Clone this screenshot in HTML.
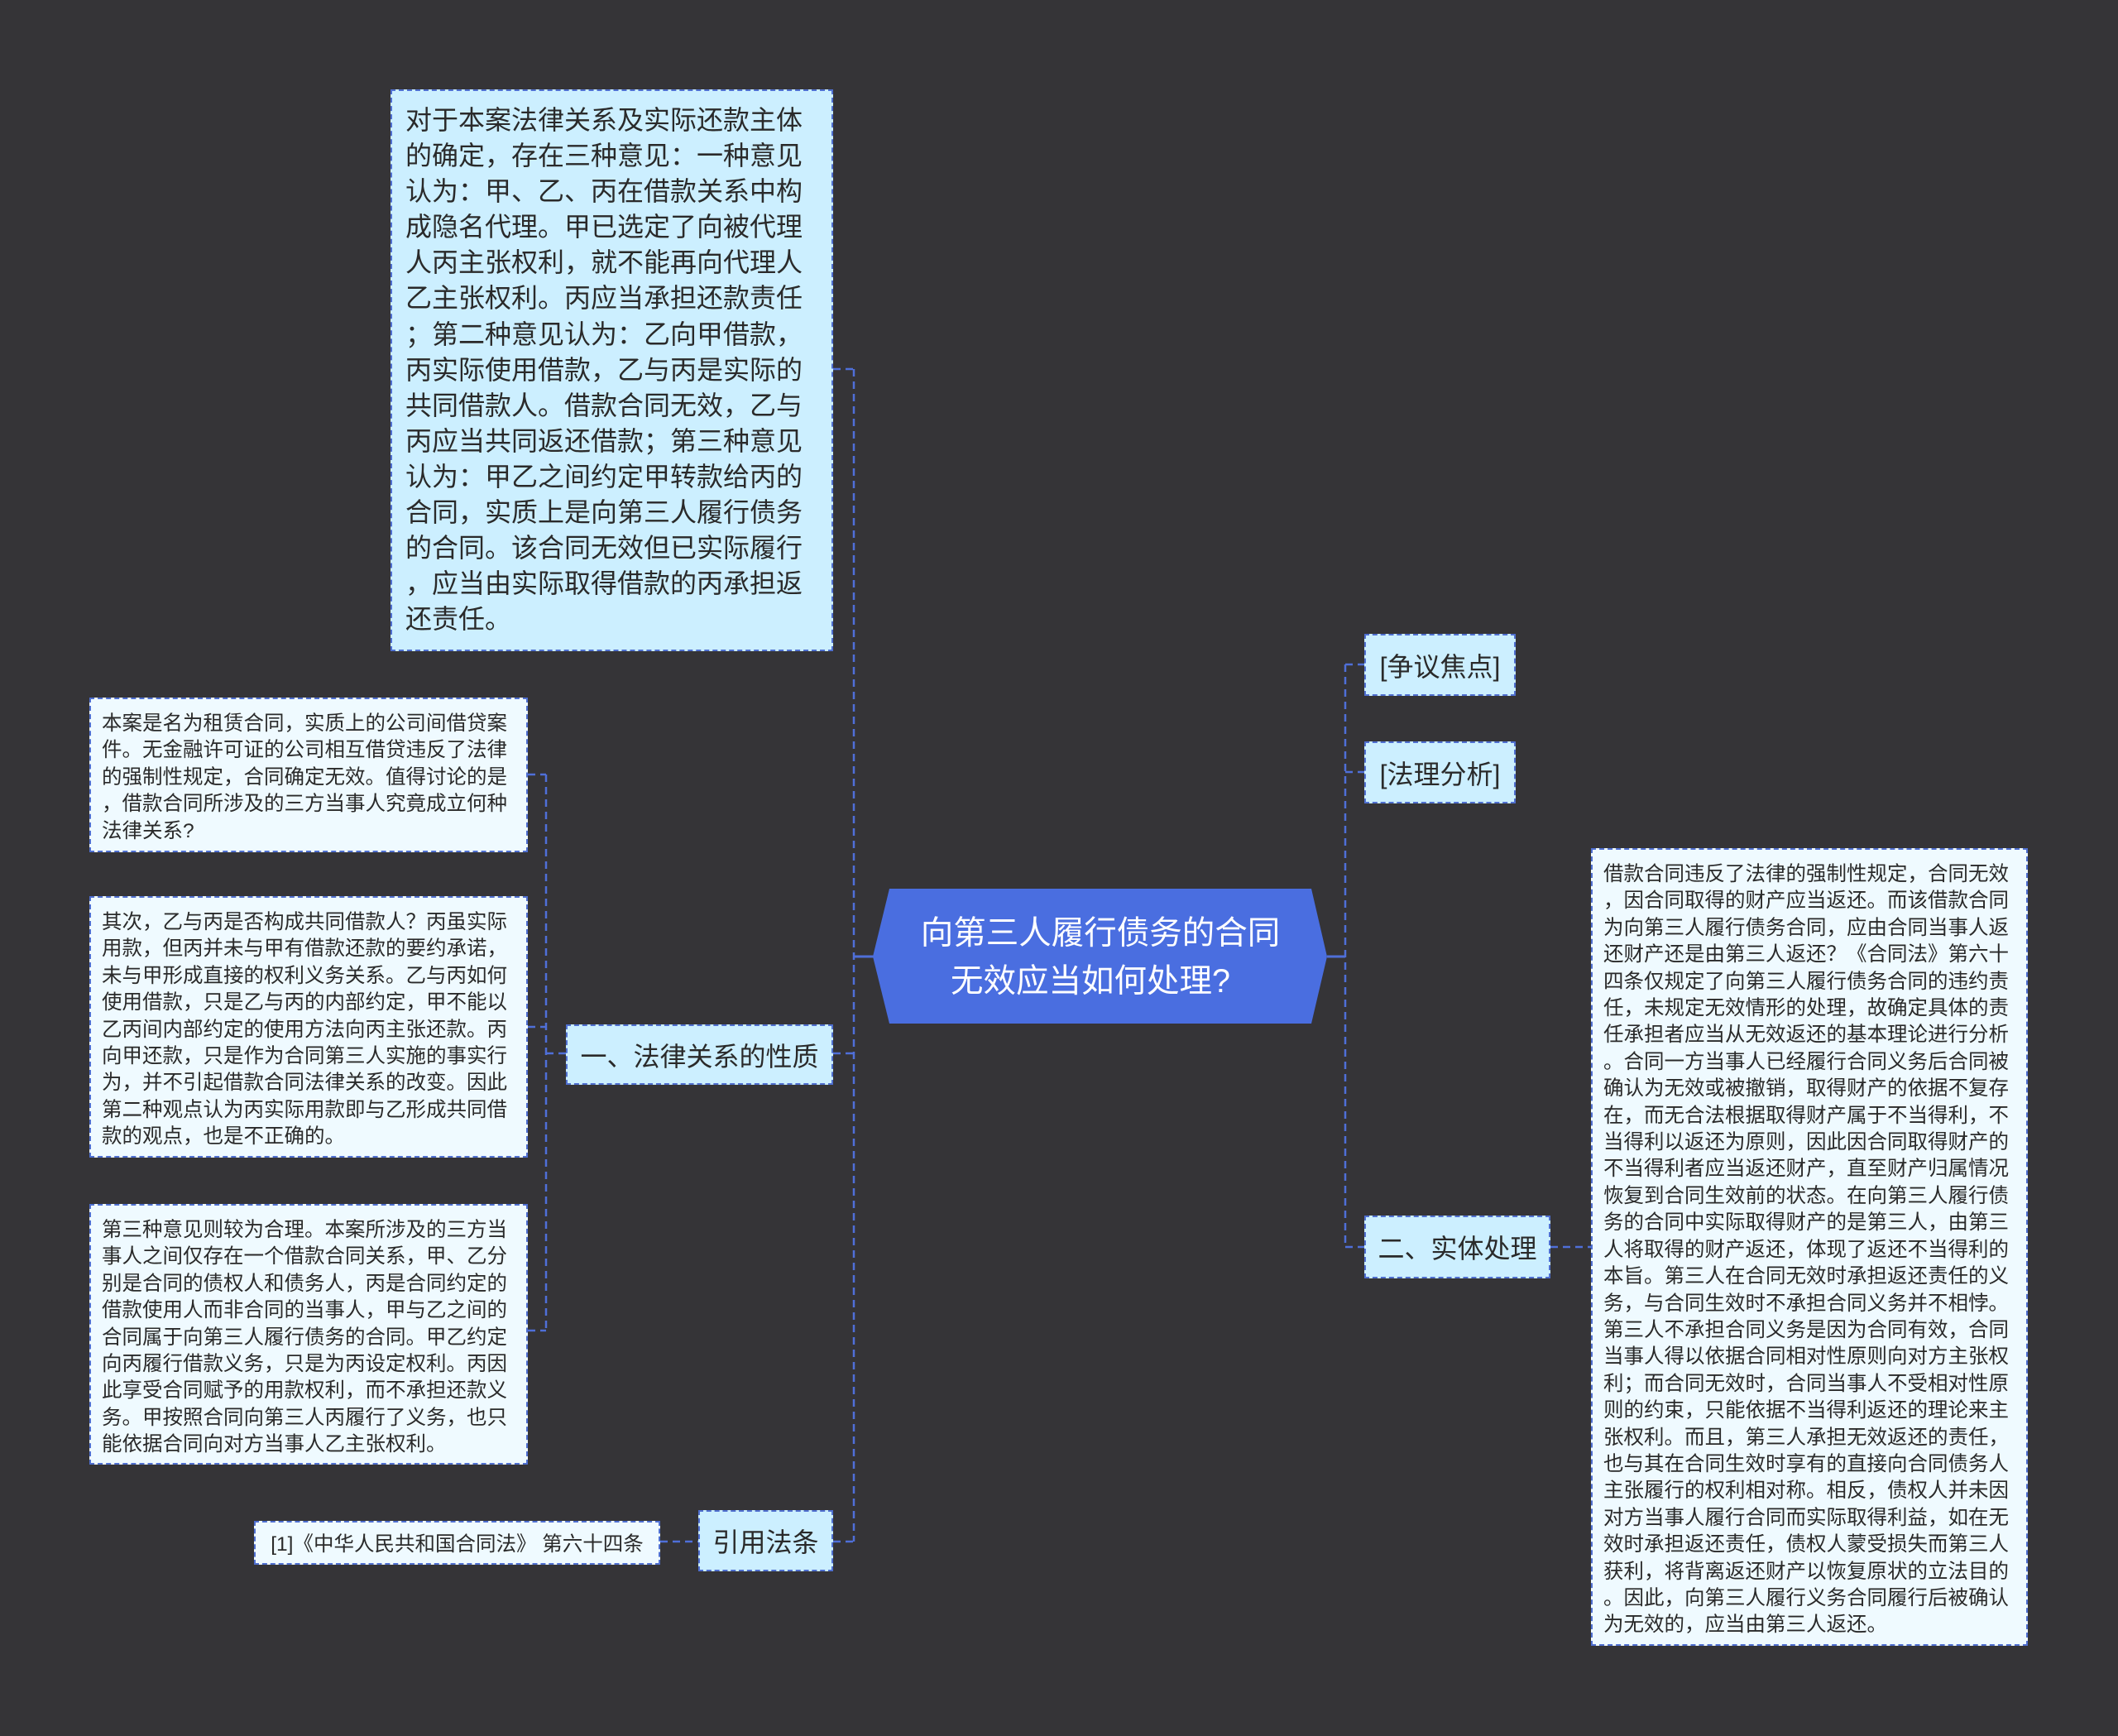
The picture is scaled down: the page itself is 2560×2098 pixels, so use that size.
<!DOCTYPE html>
<html><head><meta charset="utf-8">
<style>
body{margin:0;width:2560px;height:2098px;background:#353437;position:relative;overflow:hidden;font-family:"Liberation Sans","Noto Sans CJK SC",sans-serif;}
.b{position:absolute;box-sizing:border-box;border:2px dashed #4f6fd0;color:#2a2a2a;white-space:nowrap;}
.c{background:#ccefff;}
.w{background:#effaff;}
.sm{font-size:24.5px;line-height:32.4px;padding:14px 0 0 13px;}
.lb{font-size:32px;display:flex;align-items:center;justify-content:center;}
</style></head><body>
<svg width="2560" height="2098" style="position:absolute;left:0;top:0">
<g stroke="#4f6fd8" stroke-width="2.5" fill="none" stroke-dasharray="9 6">
<path d="M1032 446 V1863"/>
<path d="M1007 446 H1032 M1007 1273 H1032 M1007 1863 H1032"/>
<path d="M660 936 V1608"/>
<path d="M638 936 H660 M638 1241 H660 M638 1608 H660 M660 1273 H684"/>
<path d="M798 1863 H844"/>
<path d="M1626 803 V1507"/>
<path d="M1626 803 H1649 M1626 933 H1649 M1626 1507 H1649"/>
<path d="M1874 1507 H1923"/>
</g>
<g stroke="#4f6fd8" stroke-width="3">
<path d="M1032 1156 H1056 M1604 1156 H1626"/>
</g>
<polygon points="1075,1074 1585,1074 1604,1156 1585,1237 1075,1237 1055,1156" fill="#4a6ee0"/>
<text x="1330" y="1141" fill="#fff" font-size="39.5" text-anchor="middle" font-family="Liberation Sans, Noto Sans CJK SC, sans-serif">向第三人履行债务的合同</text>
<text x="1318" y="1199" fill="#fff" font-size="39.5" text-anchor="middle" font-family="Liberation Sans, Noto Sans CJK SC, sans-serif">无效应当如何处理?</text>
</svg>

<div class="b c" style="left:472px;top:108px;width:535px;height:679px;font-size:32px;line-height:43.1px;padding:14px 0 0 16px;">对于本案法律关系及实际还款主体<br>的确定，存在三种意见：一种意见<br>认为：甲、乙、丙在借款关系中构<br>成隐名代理。甲已选定了向被代理<br>人丙主张权利，就不能再向代理人<br>乙主张权利。丙应当承担还款责任<br>；第二种意见认为：乙向甲借款，<br>丙实际使用借款，乙与丙是实际的<br>共同借款人。借款合同无效，乙与<br>丙应当共同返还借款；第三种意见<br>认为：甲乙之间约定甲转款给丙的<br>合同，实质上是向第三人履行债务<br>的合同。该合同无效但已实际履行<br>，应当由实际取得借款的丙承担返<br>还责任。</div>

<div class="b w sm" style="left:108px;top:843px;width:530px;height:187px;">本案是名为租赁合同，实质上的公司间借贷案<br>件。无金融许可证的公司相互借贷违反了法律<br>的强制性规定，合同确定无效。值得讨论的是<br>，借款合同所涉及的三方当事人究竟成立何种<br>法律关系?</div>

<div class="b w sm" style="left:108px;top:1083px;width:530px;height:316px;">其次，乙与丙是否构成共同借款人？丙虽实际<br>用款，但丙并未与甲有借款还款的要约承诺，<br>未与甲形成直接的权利义务关系。乙与丙如何<br>使用借款，只是乙与丙的内部约定，甲不能以<br>乙丙间内部约定的使用方法向丙主张还款。丙<br>向甲还款，只是作为合同第三人实施的事实行<br>为，并不引起借款合同法律关系的改变。因此<br>第二种观点认为丙实际用款即与乙形成共同借<br>款的观点，也是不正确的。</div>

<div class="b w sm" style="left:108px;top:1455px;width:530px;height:315px;">第三种意见则较为合理。本案所涉及的三方当<br>事人之间仅存在一个借款合同关系，甲、乙分<br>别是合同的债权人和债务人，丙是合同约定的<br>借款使用人而非合同的当事人，甲与乙之间的<br>合同属于向第三人履行债务的合同。甲乙约定<br>向丙履行借款义务，只是为丙设定权利。丙因<br>此享受合同赋予的用款权利，而不承担还款义<br>务。甲按照合同向第三人丙履行了义务，也只<br>能依据合同向对方当事人乙主张权利。</div>

<div class="b c lb" style="left:684px;top:1238px;width:323px;height:73px;">一、法律关系的性质</div>
<div class="b c lb" style="left:844px;top:1825px;width:163px;height:74px;">引用法条</div>
<div class="b w" style="left:307px;top:1838px;width:491px;height:53px;font-size:24.5px;display:flex;align-items:center;justify-content:center;">[1]《中华人民共和国合同法》 第六十四条</div>

<div class="b c lb" style="left:1649px;top:766px;width:183px;height:75px;">[争议焦点]</div>
<div class="b c lb" style="left:1649px;top:896px;width:183px;height:75px;">[法理分析]</div>
<div class="b c lb" style="left:1649px;top:1469px;width:225px;height:76px;">二、实体处理</div>

<div class="b w sm" style="left:1923px;top:1025px;width:528px;height:964px;">借款合同违反了法律的强制性规定，合同无效<br>，因合同取得的财产应当返还。而该借款合同<br>为向第三人履行债务合同，应由合同当事人返<br>还财产还是由第三人返还？《合同法》第六十<br>四条仅规定了向第三人履行债务合同的违约责<br>任，未规定无效情形的处理，故确定具体的责<br>任承担者应当从无效返还的基本理论进行分析<br>。合同一方当事人已经履行合同义务后合同被<br>确认为无效或被撤销，取得财产的依据不复存<br>在，而无合法根据取得财产属于不当得利，不<br>当得利以返还为原则，因此因合同取得财产的<br>不当得利者应当返还财产，直至财产归属情况<br>恢复到合同生效前的状态。在向第三人履行债<br>务的合同中实际取得财产的是第三人，由第三<br>人将取得的财产返还，体现了返还不当得利的<br>本旨。第三人在合同无效时承担返还责任的义<br>务，与合同生效时不承担合同义务并不相悖。<br>第三人不承担合同义务是因为合同有效，合同<br>当事人得以依据合同相对性原则向对方主张权<br>利；而合同无效时，合同当事人不受相对性原<br>则的约束，只能依据不当得利返还的理论来主<br>张权利。而且，第三人承担无效返还的责任，<br>也与其在合同生效时享有的直接向合同债务人<br>主张履行的权利相对称。相反，债权人并未因<br>对方当事人履行合同而实际取得利益，如在无<br>效时承担返还责任，债权人蒙受损失而第三人<br>获利，将背离返还财产以恢复原状的立法目的<br>。因此，向第三人履行义务合同履行后被确认<br>为无效的，应当由第三人返还。</div>
</body></html>
